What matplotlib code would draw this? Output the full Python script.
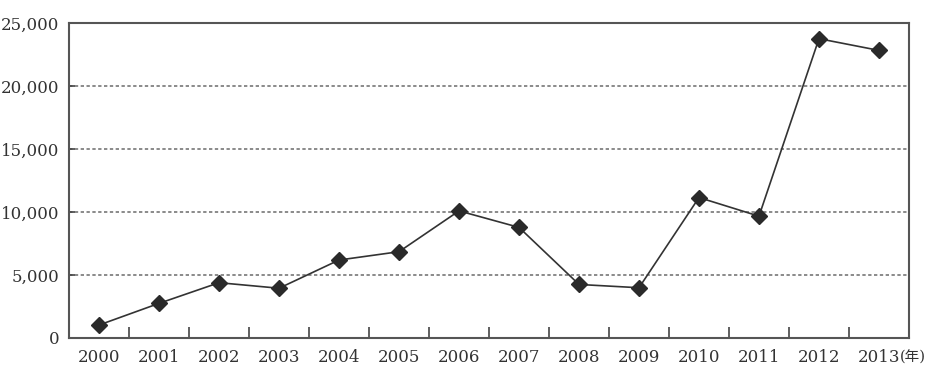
import matplotlib.pyplot as plt
import numpy as np
from matplotlib.ticker import FixedLocator, FuncFormatter

years = ["2000", "2001", "2002", "2003", "2004", "2005", "2006",
         "2007", "2008", "2009", "2010", "2011", "2012", "2013"]
values = [1030, 2750, 4390, 3950, 6190, 6850, 10090,
          8780, 4250, 3990, 11150, 9670, 23760, 22830]
yticks = [0, 5000, 10000, 15000, 20000, 25000]

font = ["DejaVu Serif", "Noto Sans CJK JP"]
dark = "#333333"

fig = plt.figure(figsize=(9.28, 3.72), dpi=100)
ax = fig.add_axes([0.0744, 0.0914, 0.9051, 0.8466])

x = np.arange(len(years))
ax.plot(x, values, "-", color=dark, lw=1.2, marker="D", ms=8,
        markerfacecolor="#2a2a2a", markeredgecolor="#2a2a2a", zorder=3)

ax.set_xlim(-0.5, len(years) - 0.5)
ax.set_ylim(0, 25000)

ax.set_yticks(yticks)
ax.yaxis.set_major_formatter(FuncFormatter(lambda v, p: "{:,}".format(int(v))))
for v in yticks[1:-1]:
    ax.axhline(v, color="#777777", lw=1.2, ls=(0, (2, 1.5)), zorder=1)

ax.set_xticks(x)
ax.set_xticklabels(years)
ax.xaxis.set_minor_locator(FixedLocator(x[:-1] + 0.5))
ax.tick_params(axis="x", which="major", length=0, pad=8)
ax.tick_params(axis="x", which="minor", direction="in", length=8, width=1.2, color="#444444")
ax.tick_params(axis="y", direction="in", length=4, width=1.2, color="#444444", pad=7)

for lbl in ax.get_xticklabels() + ax.get_yticklabels():
    lbl.set_family(font)
    lbl.set_fontsize(12)
    lbl.set_color("#333333")

ax.annotate("(年)", xy=(1, 0.5), xycoords=ax.get_xticklabels()[-1],
            va="center", ha="left", fontsize=10.5, family=font, color="#333333")

for s in ax.spines.values():
    s.set_color("#555555")
    s.set_linewidth(1.5)

fig.savefig("out.png", dpi=100)
